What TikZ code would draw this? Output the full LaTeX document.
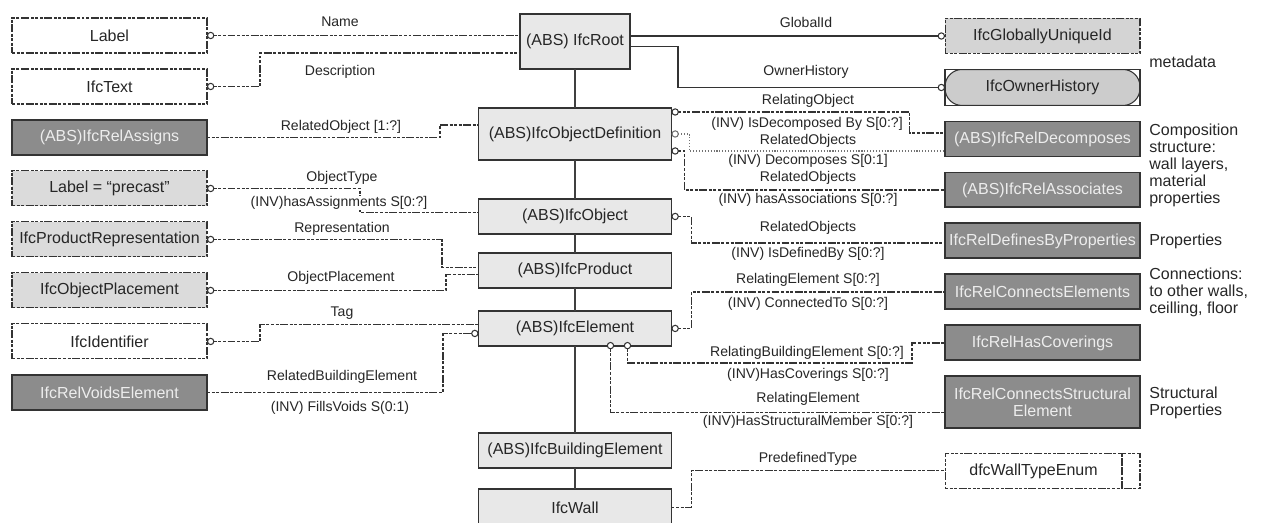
\documentclass[tikz,border=0pt]{standalone}
\usepackage{fontspec}
\setmainfont{Liberation Sans}
\usepackage{xcolor}
\usetikzlibrary{calc}
\usetikzlibrary{positioning}
\usetikzlibrary{arrows.meta}

\begin{document}
\begin{tikzpicture}[x=0.02cm, y=-0.02cm, draw=black!80, text=black!85, node distance=0.32cm, font=\fontsize{9.1}{9.65}\selectfont,
		ring/.tip={Circle[length=4.2pt, width=4.2pt, fill=white, line width=0.6pt]}]
			\tikzstyle{box}=[rectangle, minimum width=3.9cm, minimum height=0.7cm, inner sep=0pt, outer sep=0pt, align=center]
			\tikzstyle{absbox}=[box, draw=black!80, fill=black!9, line width=0.9pt, minimum width=3.86cm]
			\tikzstyle{relbox}=[box, draw=black!80, fill=black!45, line width=1.1pt, text=black!7]
			\tikzstyle{typebox}=[box, draw=black!80, line width=0.6pt, dash pattern=on 1.7pt off 0.9pt on 1.7pt off 0.9pt on 1.7pt off 0.9pt on 4.5pt off 0.9pt]
			\tikzstyle{selbox}=[typebox, fill=black!14]
			\tikzstyle{link}=[line width=0.65pt, dash pattern=on 1.7pt off 0.9pt on 1.7pt off 0.9pt on 1.7pt off 0.9pt on 4.5pt off 0.9pt]
			\tikzstyle{dotlink}=[line width=0.65pt, densely dotted, draw=black!55]
			\tikzstyle{solidlink}=[line width=0.8pt]
			\tikzstyle{spine}=[line width=0.8pt, draw=black!75]
			\tikzstyle{lab}=[font=\fontsize{8}{9}\selectfont, fill=white, inner sep=0.3pt]
			\tikzstyle{note}=[align=left, inner sep=0pt]
			
			\useasboundingbox (0,0) rectangle (1263,523);
			
			\node[typebox] (lbl) at (109.5,35.5) {Label};
			\node[typebox, below=of lbl] (txt) {IfcText};
			\node[relbox, below=of txt] (assigns) {(ABS)IfcRelAssigns};
			\node[selbox, below=of assigns] (precast) {Label = “precast”};
			\node[selbox, below=of precast] (prodrep) {IfcProductRepresentation};
			\node[selbox, below=of prodrep] (placement) {IfcObjectPlacement};
			\node[typebox, below=of placement] (ident) {IfcIdentifier};
			\node[relbox, below=of ident] (voids) {IfcRelVoidsElement};
			
			\node[absbox, minimum width=2.2cm, minimum height=1.1cm] (root) at (575,41.5) {(ABS) IfcRoot};
			\node[absbox, minimum height=1.04cm, below=0.78cm of root] (objdef) {(ABS)IfcObjectDefinition};
			\node[absbox, below=0.78cm of objdef] (object) {(ABS)IfcObject};
			\node[absbox, below=0.38cm of object] (product) {(ABS)IfcProduct};
			\node[absbox, below=0.46cm of product] (element) {(ABS)IfcElement};
			\node[absbox, below=1.74cm of element] (bldelem) {(ABS)IfcBuildingElement};
			\node[absbox, minimum height=0.74cm, below=0.42cm of bldelem] (wall) {IfcWall};
			
			\node[selbox, fill=black!17] (guid) at (1042.5,36) {IfcGloballyUniqueId};
			\node[box, below=of guid, draw=black!80, line width=1.1pt, fill=white, minimum height=0.72cm,
				path picture={\draw[fill=black!20, line width=0.6pt, rounded corners=0.34cm] (path picture bounding box.south west) rectangle (path picture bounding box.north east);}] (owner) {IfcOwnerHistory};
			\node[relbox, below=of owner] (decomp) {(ABS)IfcRelDecomposes};
			\node[relbox, below=of decomp] (assoc) {(ABS)IfcRelAssociates};
			\node[relbox, below=of assoc] (defprops) {IfcRelDefinesByProperties};
			\node[relbox, below=of defprops] (connelem) {IfcRelConnectsElements};
			\node[relbox, below=of connelem] (coverings) {IfcRelHasCoverings};
			\node[relbox, minimum height=1.04cm, below=of coverings] (structural) {IfcRelConnectsStructural\\Element};
			\node[typebox, minimum width=3.54cm, below=0.5cm of structural.south west, anchor=north west] (enum) {dfcWallTypeEnum};
			\draw[link] (enum.north east) rectangle ($(enum.south east)+(18,0)$);
			
			\node[note, anchor=west] (metadata) at ($(guid.east)!0.5!(owner.east)+(9,0)$) {metadata};
			\node[note, anchor=north west] (composition) at ($(decomp.north east)+(9,2)$) {Composition\\structure:\\wall layers,\\material\\properties};
			\node[note, right=0.18cm of defprops] (propnote) {Properties};
			\node[note, right=0.18cm of connelem] (connnote) {Connections:\\to other walls,\\ceilling, floor};
			\node[note, right=0.18cm of structural] (structnote) {Structural\\Properties};
			
			\draw[spine] (root) -- (objdef) -- (object) -- (product) -- (element) -- (bldelem) -- (wall);
			
			\draw[link, ring-] (lbl.east) -- (lbl.east -| root.west);
			\draw[link, ring-] (txt.east) -- ($(txt.east)+(53,0)$) |- ($(root.south west)+(0,-16)$);
			\draw[link] (assigns.east) -- ($(assigns.east)+(233,0)$) |- ($(objdef.west)+(0,-9)$);
			\draw[link, ring-] (precast.east) -- ($(precast.east)+(153,0)$) |- ($(object.west)+(0,-4)$);
			\draw[link, ring-] (prodrep.east) -- ($(prodrep.east)+(235,0)$) |- ($(product.west)+(0,-3)$);
			\draw[link, ring-] (placement.east) -- ($(placement.east)+(239,0)$) |- ($(product.west)+(0,4)$);
			\draw[link, ring-] (ident.east) -- ($(ident.east)+(53,0)$) |- ($(element.west)+(0,-4)$);
			\draw[link, -ring] (voids.east) -- ($(voids.east)+(236,0)$) |- ($(element.west)+(0,5)$);
			
			\draw[solidlink, -ring] (root.east |- guid.west) -- (guid.west);
			\draw[solidlink, -ring] ($(root.east)+(0,5)$) -- ($(root.east)+(48,5)$) |- (owner.west);
			\draw[link, ring-] ($(objdef.north east)+(0,4)$) -- ($(objdef.north east)+(238,4)$) |- ($(decomp.west)+(0,-6)$);
			\draw[dotlink, ring-] (objdef.east) -- ($(objdef.east)+(18,0)$) |- ($(decomp.west)+(0,12)$);
			\draw[link, ring-] ($(objdef.south east)+(0,-9)$) -- ($(objdef.south east)+(13,-9)$) |- (assoc.west);
			\draw[link, ring-] (object.east) -- ($(object.east)+(20,0)$) |- ($(defprops.west)+(0,2)$);
			\draw[link, ring-] (element.east) -- ($(element.east)+(20,0)$) |- (connelem.west);
			\draw[link, ring-] ($(element.south east)+(-44,-4)$) |- ($(coverings.west)+(-33,20)$) |- (coverings.west);
			\draw[link, ring-] ($(element.south east)+(-61,-4)$) |- ($(structural.west)+(0,10)$);
			\draw[link] (wall.east) -- ($(wall.east)+(20,0)$) |- (enum.west);
			
			\node[lab] (lName) at (340,22) {Name};
			\node[lab] (lDesc) at (340,72) {Description};
			\node[lab] (lRelObj) at (341,127) {RelatedObject [1:?]};
			\node[lab] (lObjType) at (342,178) {ObjectType};
			\node[lab] (lHasAssign) at (339,203) {(INV)hasAssignments S[0:?]};
			\node[lab] (lRepr) at (342,229) {Representation};
			\node[lab] (lPlace) at (341,278) {ObjectPlacement};
			\node[lab] (lTag) at (342,313) {Tag};
			\node[lab] (lRelBldg) at (342,377) {RelatedBuildingElement};
			\node[lab] (lFills) at (340,408) {(INV) FillsVoids S(0:1)};
			\node[lab] (lGlobal) at (806,22) {GlobalId};
			\node[lab] (lOwner) at (806,72) {OwnerHistory};
			\node[lab] (lRelating) at (808,101) {RelatingObject};
			\node[lab] (lIsDecomp) at (807,124) {(INV) IsDecomposed By S[0:?]};
			\node[lab] (lRelated1) at (808,141) {RelatedObjects};
			\node[lab] (lDecomp) at (808,161) {(INV) Decomposes S[0:1]};
			\node[lab] (lRelated2) at (808,178) {RelatedObjects};
			\node[lab] (lHasAssoc) at (808,200) {(INV) hasAssociations S[0:?]};
			\node[lab] (lRelated3) at (808,228) {RelatedObjects};
			\node[lab] (lDefBy) at (808,254) {(INV) IsDefinedBy S[0:?]};
			\node[lab] (lRelElem) at (808,280) {RelatingElement S[0:?]};
			\node[lab] (lConnTo) at (808,304) {(INV) ConnectedTo S[0:?]};
			\node[lab] (lRelBldgElem) at (807,353) {RelatingBuildingElement S[0:?]};
			\node[lab] (lHasCov) at (808,375) {(INV)HasCoverings S[0:?]};
			\node[lab] (lRelElem2) at (808,399) {RelatingElement};
			\node[lab] (lHasStruct) at (808,422) {(INV)HasStructuralMember S[0:?]};
			\node[lab] (lPredef) at (808,459) {PredefinedType};
		\end{tikzpicture}
\end{document}
